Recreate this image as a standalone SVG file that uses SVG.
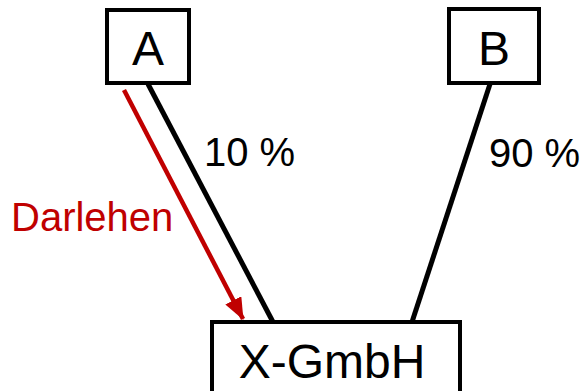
<svg xmlns="http://www.w3.org/2000/svg" width="581" height="391" viewBox="0 0 581 391">
<style>
.box{fill:#fff;stroke:#000;stroke-width:4}
.lbl{font-family:"Liberation Sans",Arial,sans-serif;fill:#000}
.big{font-size:48px;text-anchor:middle}
.pct{font-size:40px}
.edge{stroke:#000;stroke-width:5;fill:none}
</style>
<defs>
<marker id="ah" markerWidth="22" markerHeight="18" refX="21" refY="9" orient="auto" markerUnits="userSpaceOnUse">
<path d="M0,0 L22,9 L0,18 Z" fill="#c00000"/>
</marker>
</defs>
<g id="connectors">
<line class="edge" x1="148" y1="84" x2="273" y2="322"/>
<line class="edge" x1="490" y1="84" x2="412" y2="322"/>
<line x1="124" y1="90" x2="243" y2="319" stroke="#c00000" stroke-width="4.5" marker-end="url(#ah)"/>
<text class="lbl pct" x="204" y="166">10 %</text>
<text class="lbl pct" x="489" y="167">90 %</text>
<text class="lbl pct" x="11" y="231" style="fill:#c00000">Darlehen</text>
</g>
<g id="nodeA">
<rect class="box" x="107" y="10" width="82" height="73"/>
<text class="lbl big" x="148" y="65">A</text>
</g>
<g id="nodeB">
<rect class="box" x="449" y="9" width="90" height="74"/>
<text class="lbl big" x="494" y="65">B</text>
</g>
<g id="nodeX">
<rect class="box" x="212" y="322" width="248" height="80"/>
<text class="lbl big" x="332" y="378">X-GmbH</text>
</g>
</svg>
